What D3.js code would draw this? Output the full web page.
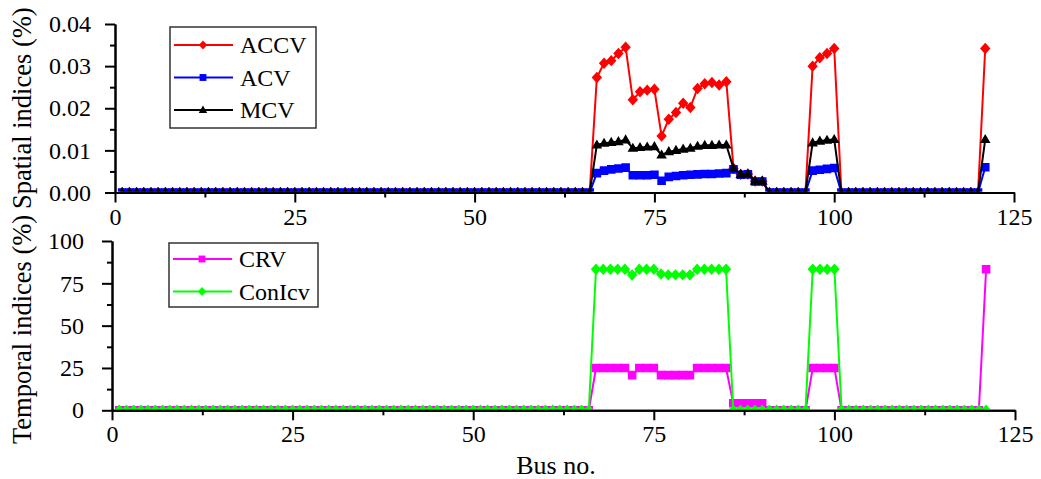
<!DOCTYPE html>
<html>
<head>
<meta charset="utf-8">
<script src="https://cdn.jsdelivr.net/npm/d3@7/dist/d3.min.js"></script>
<style>
  html, body { margin: 0; padding: 0; background: #fff; }
  svg { display: block; font-family: "Liberation Serif", "Times New Roman", serif; }
</style>
</head>
<body>
<svg id="chart" width="1041" height="479"></svg>
<script>
// Bus numbers 1..121
const buses = d3.range(1, 122);

// Spatial indices (%), one value per bus
const accv = [
  0,0,0,0,0,0,0,0,0,0, 0,0,0,0,0,0,0,0,0,0, 0,0,0,0,0,0,0,0,0,0,
  0,0,0,0,0,0,0,0,0,0, 0,0,0,0,0,0,0,0,0,0, 0,0,0,0,0,0,0,0,0,0,
  0,0,0,0,0,0,
  0.0273,0.0307,0.0313,0.0330,0.0345,0.0220,0.0239,0.0243,0.0245,0.0134,
  0.0174,0.0190,0.0212,0.0202,0.0247,0.0258,0.0261,0.0255,0.0263,
  0.0057,0.0043,0.0044,0.0027,0.0027,
  0,0,0,0,0,0,
  0.0300,0.0320,0.0330,0.0342,
  0,0,0,0,0,0,0,0,0,0, 0,0,0,0,0,0,0,0,0,0,
  0.0342
];
const acv = [
  0,0,0,0,0,0,0,0,0,0, 0,0,0,0,0,0,0,0,0,0, 0,0,0,0,0,0,0,0,0,0,
  0,0,0,0,0,0,0,0,0,0, 0,0,0,0,0,0,0,0,0,0, 0,0,0,0,0,0,0,0,0,0,
  0,0,0,0,0,0,
  0.0046,0.0052,0.0055,0.0057,0.0059,0.0041,0.0041,0.0041,0.0042,0.0028,
  0.0037,0.0039,0.0041,0.0042,0.0043,0.0044,0.0044,0.0045,0.0046,
  0.0055,0.0042,0.0043,0.0026,0.0026,
  0,0,0,0,0,0,
  0.0052,0.0054,0.0056,0.0058,
  0,0,0,0,0,0,0,0,0,0, 0,0,0,0,0,0,0,0,0,0,
  0.0060
];
const mcv = [
  0,0,0,0,0,0,0,0,0,0, 0,0,0,0,0,0,0,0,0,0, 0,0,0,0,0,0,0,0,0,0,
  0,0,0,0,0,0,0,0,0,0, 0,0,0,0,0,0,0,0,0,0, 0,0,0,0,0,0,0,0,0,0,
  0,0,0,0,0,0,
  0.0113,0.0117,0.0119,0.0121,0.0125,0.0105,0.0107,0.0108,0.0109,0.0089,
  0.0097,0.0100,0.0103,0.0105,0.0110,0.0112,0.0112,0.0113,0.0113,
  0.0057,0.0043,0.0044,0.0027,0.0027,
  0,0,0,0,0,0,
  0.0118,0.0122,0.0124,0.0126,
  0,0,0,0,0,0,0,0,0,0, 0,0,0,0,0,0,0,0,0,0,
  0.0126
];

// Temporal indices (%), one value per bus
const crv = [
  0,0,0,0,0,0,0,0,0,0, 0,0,0,0,0,0,0,0,0,0, 0,0,0,0,0,0,0,0,0,0,
  0,0,0,0,0,0,0,0,0,0, 0,0,0,0,0,0,0,0,0,0, 0,0,0,0,0,0,0,0,0,0,
  0,0,0,0,0,0,
  25,25,25,25,25,20.8,25,25,25,20.8,
  20.8,20.8,20.8,20.8,25,25,25,25,25,
  4.2,4.2,4.2,4.2,4.2,
  0,0,0,0,0,0,
  25,25,25,25,
  0,0,0,0,0,0,0,0,0,0, 0,0,0,0,0,0,0,0,0,0,
  83.3
];
const conicv = [
  0,0,0,0,0,0,0,0,0,0, 0,0,0,0,0,0,0,0,0,0, 0,0,0,0,0,0,0,0,0,0,
  0,0,0,0,0,0,0,0,0,0, 0,0,0,0,0,0,0,0,0,0, 0,0,0,0,0,0,0,0,0,0,
  0,0,0,0,0,0,
  83.3,83.3,83.3,83.3,83.3,79.9,83.3,83.3,83.3,80.5,
  80,80,80,80,83.3,83.3,83.3,83.3,83.3,
  0,0,0,0,0,
  0,0,0,0,0,0,
  83.3,83.3,83.3,83.3,
  0,0,0,0,0,0,0,0,0,0, 0,0,0,0,0,0,0,0,0,0,
  0
];

// Axis ticks
const xTicks = [0, 25, 50, 75, 100, 125];
const xMinor = [12.5, 37.5, 62.5, 87.5, 112.5];
const ySpatialTicks = [0, 0.01, 0.02, 0.03, 0.04];
const ySpatialMinor = [0.005, 0.015, 0.025, 0.035];
const yTemporalTicks = [0, 25, 50, 75, 100];
const yTemporalMinor = [12.5, 37.5, 62.5, 87.5];

const svg = d3.select("#chart");
const FONT = '"Liberation Serif", "Times New Roman", serif';

// Marker shapes
const markers = {
  diamond: r => `M0,${-r*1.1}L${r},0L0,${r*1.1}L${-r},0Z`,
  square: r => `M${-r},${-r}H${r}V${r}H${-r}Z`,
  triangle: r => `M0,${-r*1.15}L${r*1.1},${r*0.75}L${-r*1.1},${r*0.75}Z`
};

function drawPanel(cfg) {
  const x = d3.scaleLinear().domain([0, 125]).range([cfg.left, cfg.right]);
  const y = d3.scaleLinear().domain(cfg.yDomain).range([cfg.bottom, cfg.top]);
  const g = svg.append("g");

  // Data is clipped at the x axis, so zero-valued markers show only their upper half
  const clipId = "clip-" + cfg.id;
  svg.append("clipPath").attr("id", clipId)
    .append("rect")
    .attr("x", cfg.left).attr("y", cfg.top - 12)
    .attr("width", cfg.right - cfg.left + 12)
    .attr("height", cfg.bottom - cfg.top + 11);

  const plot = g.append("g").attr("clip-path", `url(#${clipId})`);
  cfg.series.forEach(s => {
    const pts = buses.map((b, i) => [b, s.values[i]]);
    plot.append("path")
      .attr("d", d3.line().x(d => x(d[0])).y(d => y(d[1]))(pts))
      .attr("fill", "none").attr("stroke", s.color).attr("stroke-width", 2);
    plot.append("g").selectAll("path").data(pts).join("path")
      .attr("transform", d => `translate(${x(d[0])},${y(d[1])})`)
      .attr("d", markers[s.marker](s.size))
      .attr("fill", s.color);
  });

  // Axes
  const styleAxis = sel => {
    sel.selectAll(".domain").attr("stroke", "#000").attr("stroke-width", 2);
    sel.selectAll(".tick line").attr("stroke", "#000").attr("stroke-width", 2);
    sel.selectAll("text").attr("fill", "#000").style("font-family", FONT).style("font-size", "24px");
  };
  g.append("g").attr("transform", `translate(0,${cfg.bottom})`)
    .call(d3.axisBottom(x).tickValues(xMinor).tickSize(5).tickSizeOuter(0).tickFormat(""))
    .call(styleAxis);
  g.append("g").attr("transform", `translate(0,${cfg.bottom})`)
    .call(d3.axisBottom(x).tickValues(xTicks).tickSize(10).tickSizeOuter(0).tickPadding(5).tickFormat(d3.format("d")))
    .call(styleAxis);
  g.append("g").attr("transform", `translate(${cfg.left},0)`)
    .call(d3.axisLeft(y).tickValues(cfg.yMinor).tickSize(5).tickSizeOuter(0).tickFormat(""))
    .call(styleAxis);
  g.append("g").attr("transform", `translate(${cfg.left},0)`)
    .call(d3.axisLeft(y).tickValues(cfg.yTicks).tickSize(10).tickSizeOuter(0).tickPadding(cfg.yPad).tickFormat(cfg.yFormat))
    .call(styleAxis);

  // Y title, running upward from its lower end
  g.append("text")
    .attr("transform", `translate(31,${cfg.titleStart}) rotate(-90)`)
    .attr("text-anchor", "start")
    .style("font-family", FONT).style("font-size", "26.5px")
    .text(cfg.title);

  // Legend
  const L = cfg.legend;
  g.append("rect").attr("x", L.x).attr("y", L.y).attr("width", L.w).attr("height", L.h)
    .attr("fill", "#fff").attr("stroke", "#333").attr("stroke-width", 1.5);
  cfg.series.forEach((s, i) => {
    const ly = L.y + L.first + i * L.step;
    g.append("line").attr("x1", L.x + 4).attr("x2", L.x + 63).attr("y1", ly).attr("y2", ly)
      .attr("stroke", s.color).attr("stroke-width", 2);
    g.append("path").attr("transform", `translate(${L.x + 33},${ly})`)
      .attr("d", markers[s.marker](s.size * 0.8)).attr("fill", s.color);
    g.append("text").attr("x", L.x + 70).attr("y", ly + 8)
      .style("font-family", FONT).style("font-size", "24px").text(s.name);
  });
}

drawPanel({
  id: "spatial", left: 115, right: 1014, top: 24, bottom: 192.5,
  yDomain: [0, 0.04], yTicks: ySpatialTicks, yMinor: ySpatialMinor,
  yFormat: d3.format(".2f"), yPad: 14,
  title: "Spatial indices (%)", titleStart: 209,
  legend: { x: 170, y: 27, w: 146, h: 101, first: 18, step: 32.5 },
  series: [
    { name: "ACCV", values: accv, color: "#ff0000", marker: "diamond", size: 5.2 },
    { name: "ACV", values: acv, color: "#0000ff", marker: "square", size: 4.3 },
    { name: "MCV", values: mcv, color: "#000000", marker: "triangle", size: 4.8 }
  ]
});

drawPanel({
  id: "temporal", left: 112, right: 1015, top: 241, bottom: 410.3,
  yDomain: [0, 100], yTicks: yTemporalTicks, yMinor: yTemporalMinor,
  yFormat: d3.format("d"), yPad: 18,
  title: "Temporal indices (%)", titleStart: 444,
  legend: { x: 169, y: 243, w: 149, h: 64, first: 16, step: 32.5 },
  series: [
    { name: "CRV", values: crv, color: "#ff00ff", marker: "square", size: 4.3 },
    { name: "ConIcv", values: conicv, color: "#00ff00", marker: "diamond", size: 5.2 }
  ]
});

// X title
svg.append("text").attr("x", 556).attr("y", 474)
  .attr("text-anchor", "middle")
  .style("font-family", FONT).style("font-size", "26px")
  .text("Bus no.");
</script>
</body>
</html>
